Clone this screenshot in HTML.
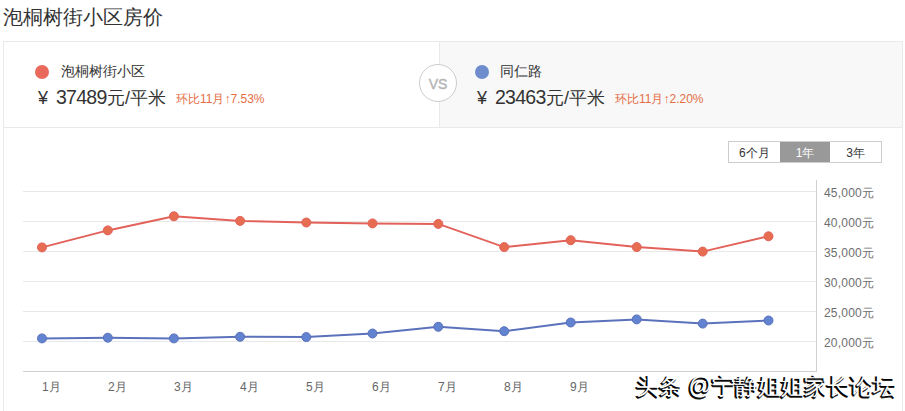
<!DOCTYPE html>
<html><head><meta charset="utf-8">
<style>
*{margin:0;padding:0;box-sizing:border-box}
html,body{width:905px;height:411px;overflow:hidden;background:#fff;font-family:"Liberation Sans",sans-serif;color:#333}
.a{position:absolute;white-space:nowrap}
#title{left:3px;top:4px;font-size:20px;line-height:26px;color:#333}
#card{left:3px;top:41px;width:900px;height:420px;border:1px solid #e9e9e9}
#hdrR{left:439px;top:41px;width:463px;height:87px;background:#f8f8f8;border-left:1px solid #e9e9e9;border-top:1px solid #e9e9e9;border-bottom:1px solid #e9e9e9}
#hdrB{left:3px;top:127px;width:900px;height:1px;background:#e9e9e9}
.dot{width:14px;height:14px;border-radius:50%}
.nm{font-size:14px;line-height:16px;color:#333}
.pr{font-size:18px;line-height:22px;color:#333}
.num{font-size:19.5px;letter-spacing:-0.75px;margin-left:8px;margin-right:0.5px}
.hb{font-size:12px;line-height:14px;color:#e56d45}
#vs{left:419px;top:64px;padding-top:1px;width:38px;height:38px;border-radius:50%;border:1px solid #ccc;background:#fff;color:#b4b4b4;font-size:14px;line-height:36px;text-align:center;-webkit-text-stroke:0.4px #b4b4b4}
#tabs{left:728px;top:141px;width:154px;height:22px;border:1px solid #ccc;display:flex;font-size:12px;line-height:20px}
#tabs div{flex:1;text-align:center;color:#333;padding-top:1px}
#tabs .on{background:#999;color:#fff}
.yl{font-size:12px;line-height:14px;color:#6e6e6e;letter-spacing:0.2px}
.xl{font-size:12px;line-height:14px;color:#666}
#wm{left:636px;top:372px;font-size:23px;line-height:28px;font-weight:normal;color:#fff;text-shadow:-1px 1px 0 #000,-2px 1px 0 #111,-1px 2px 0 #222}
</style></head><body>
<div class="a" id="title">泡桐树街小区房价</div>
<div class="a" id="card"></div>
<div class="a" id="hdrR"></div>
<div class="a" id="hdrB"></div>

<div class="a dot" style="left:35px;top:65px;background:#e96a5b"></div>
<div class="a nm" style="left:61px;top:63px">泡桐树街小区</div>
<div class="a pr" style="left:38px;top:86px">¥<span class="num">37489</span>元/平米</div>
<div class="a hb" style="left:176px;top:92px">环比11月↑7.53%</div>

<div class="a dot" style="left:475px;top:65px;background:#6f8dcc"></div>
<div class="a nm" style="left:500px;top:63px">同仁路</div>
<div class="a pr" style="left:477px;top:86px">¥<span class="num">23463</span>元/平米</div>
<div class="a hb" style="left:615px;top:92px">环比11月↑2.20%</div>

<div class="a" id="vs">VS</div>

<div class="a" id="tabs"><div>6个月</div><div class="on">1年</div><div>3年</div></div>

<svg class="a" style="left:0;top:0" width="905" height="411">
<g stroke="#e8e8e8" stroke-width="1">
<line x1="23" y1="191.5" x2="816" y2="191.5"/>
<line x1="23" y1="221.5" x2="816" y2="221.5"/>
<line x1="23" y1="251.5" x2="816" y2="251.5"/>
<line x1="23" y1="281.5" x2="816" y2="281.5"/>
<line x1="23" y1="311.5" x2="816" y2="311.5"/>
<line x1="23" y1="341.5" x2="816" y2="341.5"/>
</g>
<line x1="23" y1="371.5" x2="817" y2="371.5" stroke="#d0d0d0"/>
<line x1="816.5" y1="180" x2="816.5" y2="371" stroke="#d0d0d0"/>
<polyline fill="none" stroke="#e2625a" stroke-width="2" points="42,247.4 107.8,230.4 173.9,216.3 240.1,220.9 306.3,222.5 372.5,223.4 438.3,223.9 504.2,247.1 570.7,240.2 636.7,247.1 702.7,251.6 768.5,236.3"/>
<g fill="#e76d52" stroke="#e2625a" stroke-width="1">
<circle cx="42" cy="247.4" r="4.5"/><circle cx="107.8" cy="230.4" r="4.5"/><circle cx="173.9" cy="216.3" r="4.5"/><circle cx="240.1" cy="220.9" r="4.5"/><circle cx="306.3" cy="222.5" r="4.5"/><circle cx="372.5" cy="223.4" r="4.5"/><circle cx="438.3" cy="223.9" r="4.5"/><circle cx="504.2" cy="247.1" r="4.5"/><circle cx="570.7" cy="240.2" r="4.5"/><circle cx="636.7" cy="247.1" r="4.5"/><circle cx="702.7" cy="251.6" r="4.5"/><circle cx="768.5" cy="236.3" r="4.5"/>
</g>
<polyline fill="none" stroke="#5b72bb" stroke-width="2" points="42,338.4 107.8,337.7 173.9,338.4 240.1,336.8 306.3,337.1 372.5,333.5 438.3,326.8 504.2,331.2 570.7,322.5 636.7,319.4 702.7,323.6 768.5,320.5"/>
<g fill="#6283cf" stroke="#5b72bb" stroke-width="1">
<circle cx="42" cy="338.4" r="4.5"/><circle cx="107.8" cy="337.7" r="4.5"/><circle cx="173.9" cy="338.4" r="4.5"/><circle cx="240.1" cy="336.8" r="4.5"/><circle cx="306.3" cy="337.1" r="4.5"/><circle cx="372.5" cy="333.5" r="4.5"/><circle cx="438.3" cy="326.8" r="4.5"/><circle cx="504.2" cy="331.2" r="4.5"/><circle cx="570.7" cy="322.5" r="4.5"/><circle cx="636.7" cy="319.4" r="4.5"/><circle cx="702.7" cy="323.6" r="4.5"/><circle cx="768.5" cy="320.5" r="4.5"/>
</g>
</svg>

<div class="a yl" style="left:824px;top:186px">45,000元</div>
<div class="a yl" style="left:824px;top:216px">40,000元</div>
<div class="a yl" style="left:824px;top:246px">35,000元</div>
<div class="a yl" style="left:824px;top:276px">30,000元</div>
<div class="a yl" style="left:824px;top:306px">25,000元</div>
<div class="a yl" style="left:824px;top:336px">20,000元</div>

<div class="a xl" style="left:42px;top:380px">1月</div>
<div class="a xl" style="left:108px;top:380px">2月</div>
<div class="a xl" style="left:174px;top:380px">3月</div>
<div class="a xl" style="left:240px;top:380px">4月</div>
<div class="a xl" style="left:306px;top:380px">5月</div>
<div class="a xl" style="left:372px;top:380px">6月</div>
<div class="a xl" style="left:438px;top:380px">7月</div>
<div class="a xl" style="left:504px;top:380px">8月</div>
<div class="a xl" style="left:570px;top:380px">9月</div>

<div class="a" id="wm">头条 @宁静姐姐家长论坛</div>
</body></html>
